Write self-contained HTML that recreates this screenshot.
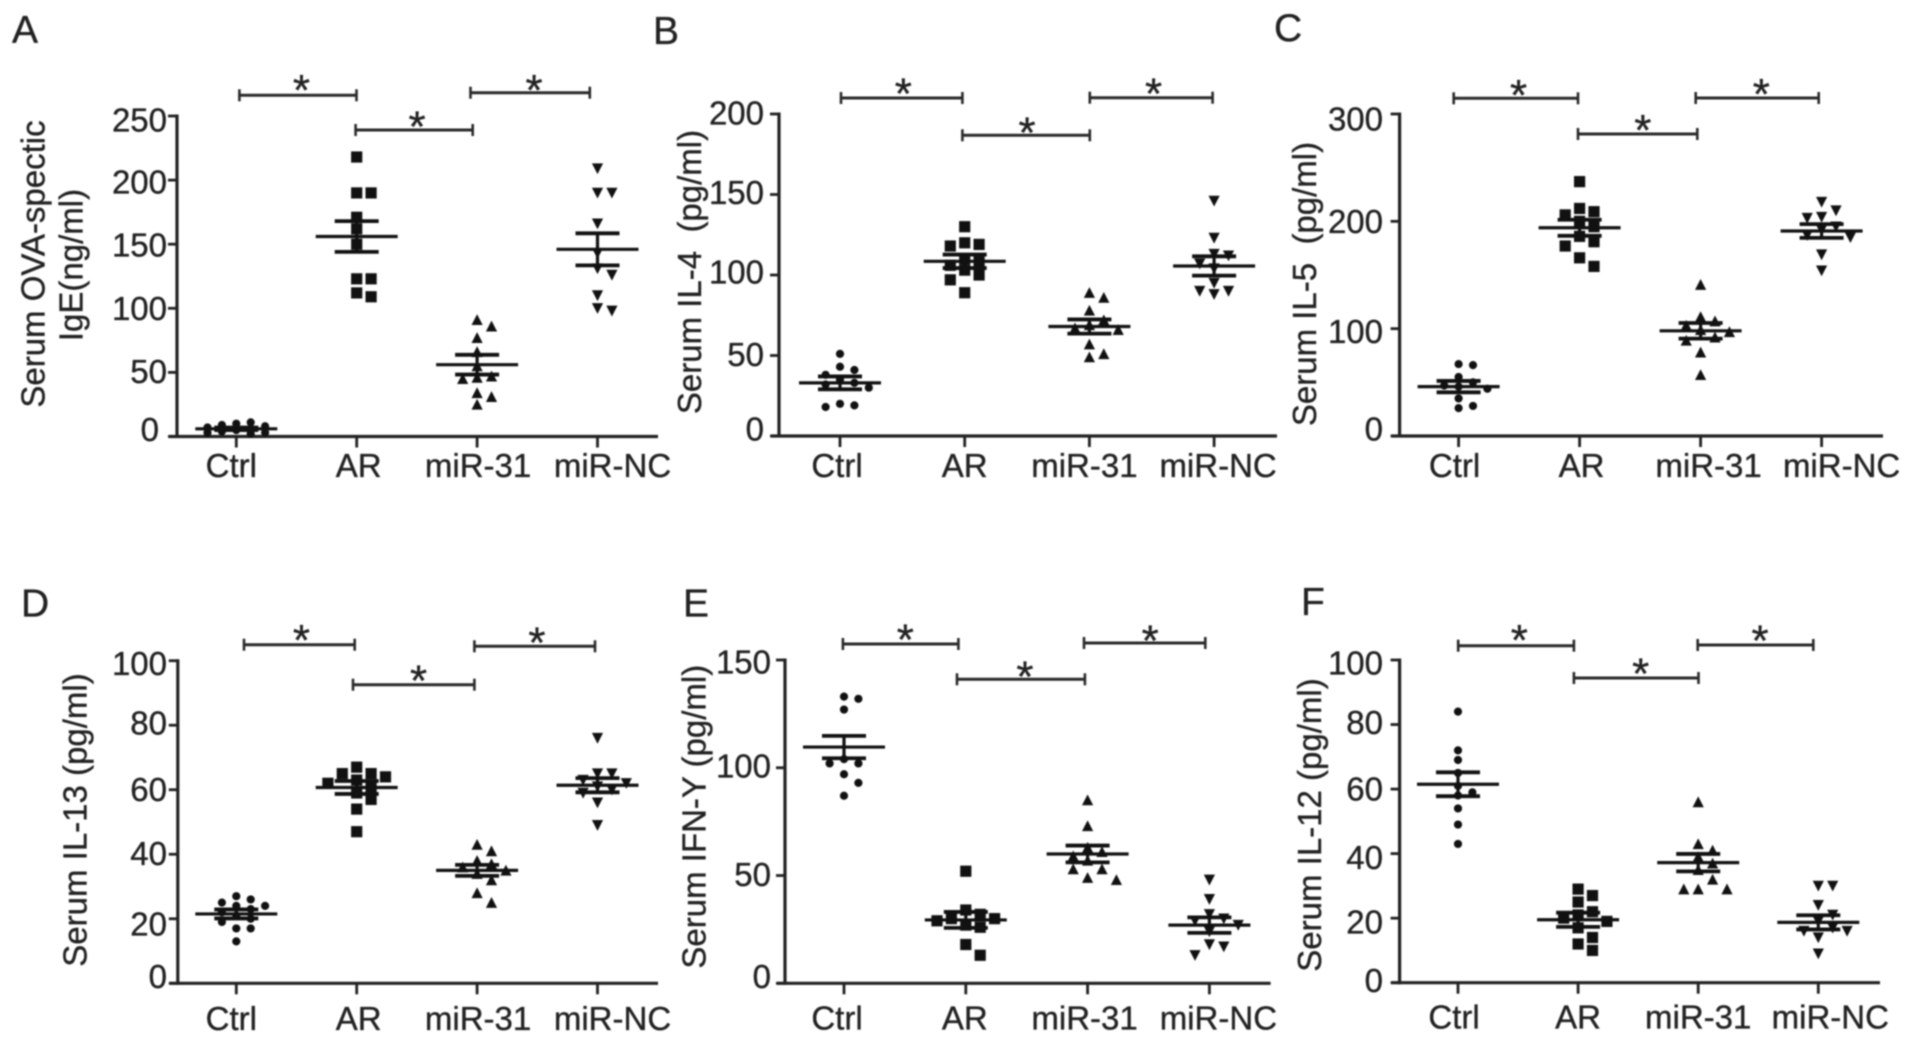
<!DOCTYPE html>
<html lang="en">
<head>
<meta charset="utf-8">
<title>Serum cytokine scatter plots</title>
<style>
html,body{margin:0;padding:0;background:#fff;width:1913px;height:1043px;overflow:hidden}
svg{display:block;filter:blur(0.7px)}
text{font-family:"Liberation Sans",sans-serif;fill:#222;stroke:#222;stroke-width:0.35px}
</style>
</head>
<body>
<svg id="figure" width="1913" height="1043" viewBox="0 0 1913 1043" xmlns="http://www.w3.org/2000/svg"></svg>
<script>
const categories = ['Ctrl', 'AR', 'miR-31', 'miR-NC'];

const ticksA = [0, 50, 100, 150, 200, 250];
const ctrlA = [10, 11, 9, 8, 7, 6, 5, 4, 3, 3, 2];
const arA = [218, 190, 190, 171, 162, 150, 123, 123, 112, 109];
const mir31A = [91, 86, 77, 66, 55, 47, 46, 45, 34, 31, 25];
const ncA = [209, 190, 190, 166, 143, 131, 126, 110, 100, 98];
const meansA = [6, 156, 56, 146];
const semsA = [1, 12, 7.7, 12.5];

const ticksB = [0, 50, 100, 150, 200];
const ctrlB = [51, 43, 41, 38, 35, 33, 32, 30, 20, 19, 18];
const arB = [130, 120, 119, 118, 110, 108, 106, 103, 100, 97, 89];
const mir31B = [89, 86, 78, 72, 69, 67, 66, 57, 51, 49];
const ncB = [146, 123, 113, 112, 107, 104, 95, 90, 90, 88];
const meansB = [33, 108.5, 68, 105.6];
const semsB = [4, 4.2, 4.4, 6];

const ticksC = [0, 100, 200, 300];
const ctrlC = [67, 66, 55, 50, 47, 46, 44, 35, 28, 26];
const arC = [237, 212, 209, 206, 200, 195, 186, 181, 177, 166, 158];
const mir31C = [141, 111, 107, 103, 99, 97, 92, 89, 78, 57];
const ncC = [218, 210, 204, 203, 195, 192, 187, 185, 169, 154];
const meansC = [46, 194, 98, 191];
const semsC = [5.3, 7.5, 7.3, 6.4];

const ticksD = [0, 20, 40, 60, 80, 100];
const ctrlD = [27, 26, 25, 24, 24, 23, 22, 21, 20, 19, 17, 17, 13];
const arD = [67, 65, 65, 64, 63, 62, 61, 59, 57, 54, 47];
const mir31D = [43, 41, 38, 37, 36, 35, 34, 32, 28, 25];
const ncD = [76, 65, 65, 63, 62, 61, 60, 59, 56, 49];
const meansD = [21.5, 60.7, 35, 61.4];
const semsD = [1.4, 2, 1.7, 2.2];

const ticksE = [0, 50, 100, 150];
const ctrlE = [133, 132, 127, 104, 102, 102, 97, 93, 87];
const arE = [52, 34, 32, 30, 30, 29, 27, 26, 18, 13];
const mir31E = [85, 73, 63, 61, 59, 57, 53, 53, 49, 48];
const ncE = [48, 39, 32, 30, 29, 27, 24, 18, 17, 13];
const meansE = [109.6, 29.4, 60, 27];
const semsE = [5.2, 3.7, 3.9, 3.6];

const ticksF = [0, 20, 40, 60, 80, 100];
const ctrlF = [84, 72, 69, 65, 61, 59, 58, 54, 49, 43];
const arF = [29, 27, 25, 22, 21, 20, 19, 17, 14, 12, 10];
const mir31F = [56, 43, 41, 39, 37, 35, 32, 29, 29, 29];
const ncF = [30, 30, 24, 21, 19, 17, 16, 16, 14, 9];
const meansF = [61.5, 19.5, 37.2, 18.7];
const semsF = [3.7, 2.2, 2.7, 2.2];

const INK = '#222';
const FONT = 33;
const svg = document.getElementById('figure');
const NS = 'http://www.w3.org/2000/svg';

function add(tag, parent, name, attrs, content) {
  const el = document.createElementNS(NS, tag);
  
  
  for (const k in attrs) el.setAttribute(k, attrs[k]);
  if (content !== undefined) el.textContent = content;
  parent.appendChild(el);
  return el;
}

/* Places points of a group into side-by-side lanes; crowded bands overlap in the least used lane */
function swarmLanes(values, yScale, gapPx) {
  const order = [0, 1, -1, 2, -2];
  const placed = [];
  return values.map(function (v) {
    const py = yScale(v);
    let best = 0, bestDist = -1;
    for (const lane of order) {
      const dists = placed.filter(function (p) { return p.lane === lane; }).map(function (p) { return Math.abs(p.py - py); });
      const d = dists.length ? Math.min.apply(null, dists) : Infinity;
      if (d >= gapPx) { best = lane; bestDist = d; break; }
      if (d > bestDist) { best = lane; bestDist = d; }
    }
    placed.push({ lane: best, py: py });
    return best;
  });
}

function drawMarker(g, kind, cx, cy) {
  const s = 5.6;
  if (kind === 'circle') {
    add('circle', g, 'data-point-circle', { cx: cx, cy: cy, r: 4.1, fill: '#111' });
  } else if (kind === 'square') {
    add('rect', g, 'data-point-square', { x: cx - s, y: cy - s, width: 2 * s, height: 2 * s, fill: '#111' });
  } else if (kind === 'up') {
    add('polygon', g, 'data-point-triangle-up', { points: (cx - s) + ',' + (cy + s - 0.4) + ' ' + (cx + s) + ',' + (cy + s - 0.4) + ' ' + cx + ',' + (cy - s), fill: '#111' });
  } else {
    add('polygon', g, 'data-point-triangle-down', { points: (cx - s) + ',' + (cy - s + 0.4) + ' ' + (cx + s) + ',' + (cy - s + 0.4) + ' ' + cx + ',' + (cy + s), fill: '#111' });
  }
}

function drawBracket(g, b) {
  const br = add('g', g, 'significance-bracket', {});
  add('line', br, 'bracket-bar', { x1: b[0], x2: b[1], y1: b[2], y2: b[2], stroke: '#2a2a2a', 'stroke-width': 3 });
  add('line', br, 'bracket-left-cap', { x1: b[0], x2: b[0], y1: b[2] - 6, y2: b[2] + 6, stroke: '#2a2a2a', 'stroke-width': 2.6 });
  add('line', br, 'bracket-right-cap', { x1: b[1], x2: b[1], y1: b[2] - 6, y2: b[2] + 6, stroke: '#2a2a2a', 'stroke-width': 2.6 });
  add('text', br, 'significance-star', { x: b[3], y: b[4] + 25, 'text-anchor': 'middle', 'font-size': 44 }, '*');
}

function drawPanel(p) {
  const g = add('g', svg, 'panel-' + p.letter.toLowerCase(), {});
  const yMax = p.ticks[p.ticks.length - 1];
  const y = function (v) { return p.y0 - (v / yMax) * (p.y0 - p.yTop); };
  const x = function (i) { return p.x0 + i * p.step; };

  add('text', g, 'panel-letter', { x: p.letterPos[0], y: p.letterPos[1], 'font-size': 39 }, p.letter);

  p.title.forEach(function (t) {
    add('text', g, 'y-axis-title', {
      transform: 'translate(' + t[1] + ',' + t[2] + ') rotate(-90)',
      'text-anchor': 'middle', 'font-size': FONT, style: 'white-space:pre'
    }, t[0]);
  });

  add('line', g, 'y-axis', { x1: p.axisX, x2: p.axisX, y1: p.yTop - 1.5, y2: p.y0 + 1.5, stroke: INK, 'stroke-width': 3.2 });
  add('line', g, 'x-axis', { x1: p.axisX - 8, x2: p.xEnd, y1: p.y0, y2: p.y0, stroke: INK, 'stroke-width': 3.2 });

  p.ticks.forEach(function (v, i) {
    add('line', g, 'y-tick', { x1: p.axisX - 9, x2: p.axisX, y1: y(v), y2: y(v), stroke: INK, 'stroke-width': 2.8 });
    const zeroNudge = v === 0 ? (p.zeroLabelShift || 0) : 0;
    add('text', g, 'y-tick-label', { x: p.tickLabelX + zeroNudge, y: y(v) + 11.5 + p.tickShift[i], 'text-anchor': 'end', 'font-size': FONT }, String(v));
  });

  categories.forEach(function (c, i) {
    add('line', g, 'x-tick', { x1: x(i), x2: x(i), y1: p.y0, y2: p.y0 + 11, stroke: INK, 'stroke-width': 2.8 });
    add('text', g, 'x-tick-label', { x: x(i) + p.labelShift[i], y: p.labelY, 'text-anchor': 'middle', 'font-size': FONT }, c);
  });

  p.groups.forEach(function (values, i) {
    const grp = add('g', g, 'group-' + categories[i].toLowerCase(), {});
    const lanes = swarmLanes(values, y, p.kinds[i] === 'circle' ? 9 : 11);
    values.forEach(function (v, j) {
      drawMarker(grp, p.kinds[i], x(i) + lanes[j] * 14.4, y(v));
    });
    const m = p.means[i], s = p.sems[i];
    add('line', grp, 'mean-line', { x1: x(i) - 41, x2: x(i) + 41, y1: y(m), y2: y(m), stroke: '#111', 'stroke-width': 3.2 });
    add('line', grp, 'sem-stem', { x1: x(i), x2: x(i), y1: y(m + s), y2: y(m - s), stroke: '#111', 'stroke-width': 3.2 });
    add('line', grp, 'sem-upper-cap', { x1: x(i) - 22, x2: x(i) + 22, y1: y(m + s), y2: y(m + s), stroke: '#111', 'stroke-width': 3.8 });
    add('line', grp, 'sem-lower-cap', { x1: x(i) - 22, x2: x(i) + 22, y1: y(m - s), y2: y(m - s), stroke: '#111', 'stroke-width': 3.8 });
  });

  p.brackets.forEach(function (b) { drawBracket(g, b); });
}

const kinds = ['circle', 'square', 'up', 'down'];

drawPanel({
  letter: 'A', letterPos: [12, 43], kinds: kinds,
  ticks: ticksA, groups: [ctrlA, arA, mir31A, ncA], means: meansA, sems: semsA,
  y0: 436.5, yTop: 116, axisX: 177, xEnd: 658, x0: 236.3, step: 120.4,
  tickLabelX: 167, zeroLabelShift: -8, tickShift: [-7, -1, 0, 1, 2, 4],
  labelY: 477, labelShift: [-5, 2, 1, 15],
  title: [['Serum OVA-spectic', 44.7, 264], ['IgE(ng/ml)', 82.4, 265]],
  brackets: [[239.4, 356.5, 95.3, 301.4, 80], [355.6, 472.7, 130, 417, 116.7], [470.5, 589.8, 92.7, 534, 80]]
});

drawPanel({
  letter: 'B', letterPos: [653, 44], kinds: kinds,
  ticks: ticksB, groups: [ctrlB, arB, mir31B, ncB], means: meansB, sems: semsB,
  y0: 436, yTop: 114, axisX: 779, xEnd: 1277, x0: 840, step: 124.7,
  tickLabelX: 764, tickShift: [-7, -1, -3, -2, -1],
  labelY: 477, labelShift: [-3, 0, -5, 4],
  title: [['Serum IL-4  (pg/ml)', 701, 272]],
  brackets: [[841, 962.4, 98, 903.3, 83.3], [962.4, 1089.8, 135.3, 1027, 122.3], [1089.8, 1212.6, 97.7, 1153.5, 83.3]]
});

drawPanel({
  letter: 'C', letterPos: [1274, 41], kinds: kinds,
  ticks: ticksC, groups: [ctrlC, arC, mir31C, ncC], means: meansC, sems: semsC,
  y0: 436, yTop: 114, axisX: 1399.6, xEnd: 1883, x0: 1458.6, step: 121,
  tickLabelX: 1383, tickShift: [-7, 3, 0, 5],
  labelY: 477, labelShift: [-4, 2, 8, 20],
  title: [['Serum IL-5  (pg/ml)', 1316, 284]],
  brackets: [[1453.7, 1578, 98.3, 1518.5, 85], [1578, 1697.3, 134, 1642.8, 120], [1695.7, 1818.7, 98, 1761.3, 84]]
});

drawPanel({
  letter: 'D', letterPos: [21, 616.7], kinds: kinds,
  ticks: ticksD, groups: [ctrlD, arD, mir31D, ncD], means: meansD, sems: semsD,
  y0: 983.3, yTop: 660.7, axisX: 177.8, xEnd: 658, x0: 236.3, step: 120.4,
  tickLabelX: 167, tickShift: [-7, 5, -1, 0, -2, 3],
  labelY: 1030, labelShift: [-5, 2, 1, 15],
  title: [['Serum IL-13 (pg/ml)', 86.7, 820]],
  brackets: [[244, 354.7, 644.7, 301.4, 630], [353, 474.4, 684.7, 418.5, 670.7], [474.4, 595, 646.3, 536.9, 632.7]]
});

drawPanel({
  letter: 'E', letterPos: [683, 616.7], kinds: kinds,
  ticks: ticksE, groups: [ctrlE, arE, mir31E, ncE], means: meansE, sems: semsE,
  y0: 983.3, yTop: 660, axisX: 785, xEnd: 1270.6, x0: 844, step: 121.8,
  tickLabelX: 771, tickShift: [-7, -1, -2, 2],
  labelY: 1029.5, labelShift: [-7, -1, -3, 9],
  title: [['Serum IFN-Y (pg/ml)', 705.3, 816.7]],
  brackets: [[842.9, 958.4, 644, 905.3, 629.3], [957, 1084.9, 679.3, 1024.9, 666.7], [1084, 1205.3, 643, 1150.2, 630.7]]
});

drawPanel({
  letter: 'F', letterPos: [1301, 615], kinds: kinds,
  ticks: ticksF, groups: [ctrlF, arF, mir31F, ncF], means: meansF, sems: semsF,
  y0: 982.7, yTop: 660, axisX: 1399.6, xEnd: 1880, x0: 1458, step: 120.1,
  tickLabelX: 1383, tickShift: [-2, 4, 4, 0, -2, 3],
  labelY: 1028.5, labelShift: [-4, 0, 0, 12],
  title: [['Serum IL-12 (pg/ml)', 1321, 825]],
  brackets: [[1458.2, 1573.9, 645.7, 1519.3, 630], [1573.9, 1698.5, 678, 1640.7, 663.3], [1697.7, 1813.3, 645, 1760, 630.7]]
});
</script>
</body>
</html>
